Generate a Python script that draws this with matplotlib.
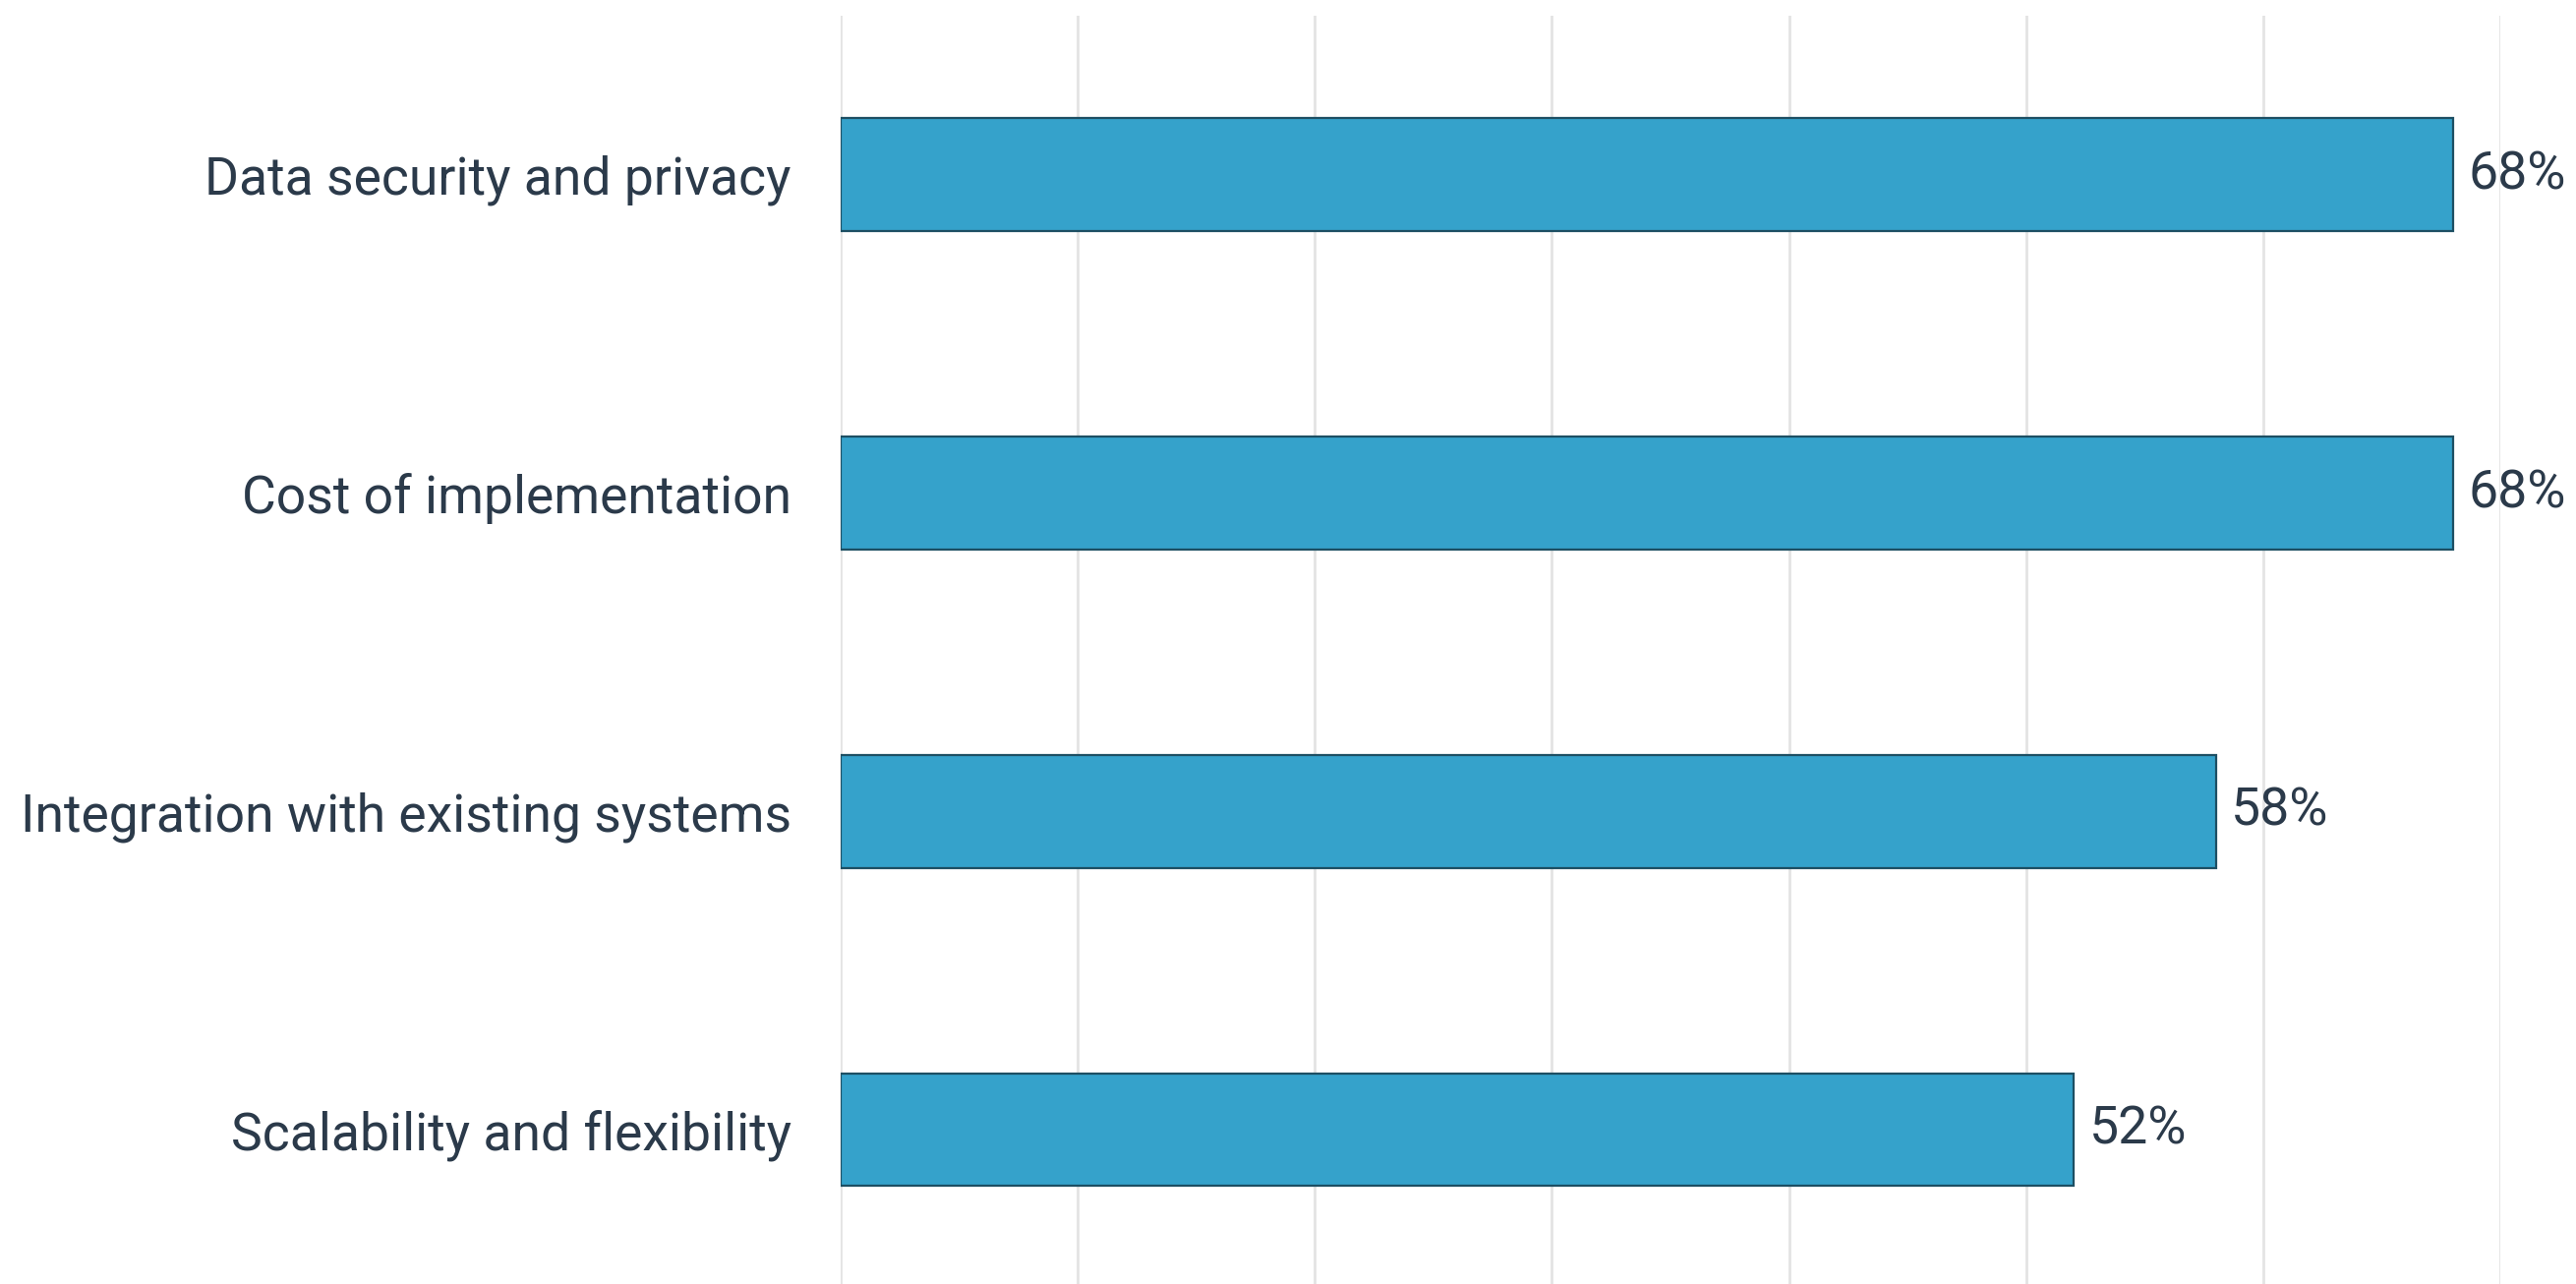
import matplotlib
matplotlib.use("Agg")
import matplotlib.pyplot as plt

categories = ["Data security and privacy", "Cost of implementation",
              "Integration with existing systems", "Scalability and flexibility"]
shares = [68, 68, 58, 52]
gridticks = [0, 10, 20, 30, 40, 50, 60, 70]

TEXT = "#2b3a4a"
BAR = "#35a2cb"
EDGE = "#1d4f63"

plt.rcParams["font.family"] = ["Roboto", "DejaVu Sans"]

fig = plt.figure(figsize=(26.2, 13.06), dpi=100)
ax = fig.add_axes([855 / 2620, 0, (2543 - 855) / 2620, 1290 / 1306])

ypos = list(range(len(categories)))
ax.barh(ypos, shares, height=0.355, color=BAR, edgecolor=EDGE, linewidth=1.6, zorder=3)

for y, v in zip(ypos, shares):
    ax.text(v + 0.65, y, "%d%%" % v, va="center", ha="left", fontsize=38.5, color=TEXT)

ax.set_xlim(0, 70)
ax.set_ylim(3.485, -0.5)
ax.set_xticks(gridticks)
ax.set_yticks(ypos)
ax.set_yticklabels(categories, fontsize=38.5, color=TEXT)
ax.tick_params(axis="y", length=0, pad=36)
ax.tick_params(axis="x", length=0, labelbottom=False)
ax.grid(axis="x", color="#e4e4e4", linewidth=2, zorder=0)
for s in ax.spines.values():
    s.set_visible(False)

fig.savefig("out.png", dpi=100)
